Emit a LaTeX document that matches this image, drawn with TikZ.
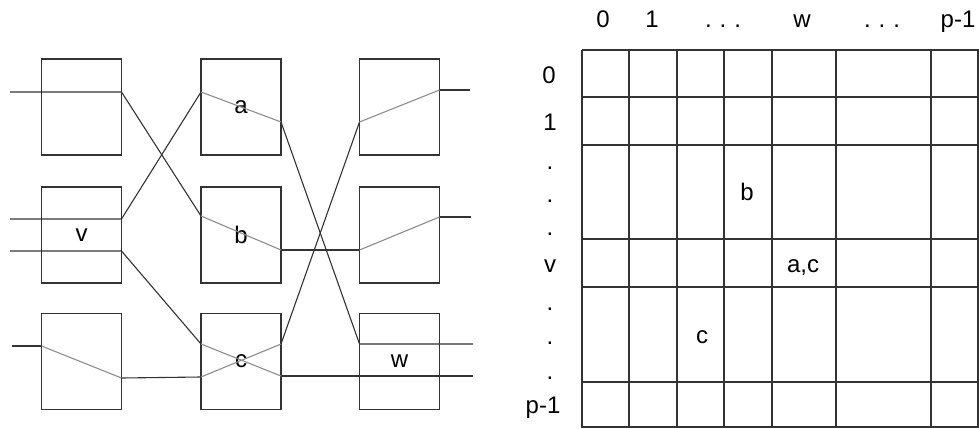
\documentclass[tikz,border=0pt]{standalone}
\usepackage{fontspec}
\setmainfont{Liberation Sans}
\begin{document}
\begin{tikzpicture}[x=1pt, y=-1pt,
		box/.style={draw=black!80, line width=1.3pt, minimum width=80pt, minimum height=96pt, inner sep=0pt},
		wire/.style={black!80, line width=1.1pt},
		inwire/.style={black!45, line width=1.1pt},
		lbl/.style={anchor=base, inner sep=0pt},
		font=\fontsize{24}{28}\selectfont]
	\useasboundingbox (0,0) rectangle (979,428);
	% switch boxes
	\node[box] (s11) at (81.5,107) {};
	\node[box] (s21) at (81.5,235) {v};
	\node[box] (s31) at (81.5,361.5) {};
	\node[box] (s12) at (241,107) {a};
	\node[box] (s22) at (241,235) {b};
	\node[box] (s32) at (241,361.5) {c};
	\node[box] (s13) at (399.5,107) {};
	\node[box] (s23) at (399.5,235) {};
	\node[box] (s33) at (399.5,361.5) {w};
	% wire ends
	\coordinate (in1) at (10,92);   \coordinate (o11) at (121.5,92);
	\coordinate (in2) at (10,219);  \coordinate (o21) at (121.5,219);
	\coordinate (in3) at (10,251);  \coordinate (o22) at (121.5,251);
	\coordinate (in4) at (12,346);  \coordinate (i31) at (41.5,346);
	\coordinate (o31) at (121.5,378);
	\coordinate (i12) at (201,92);  \coordinate (o12) at (281,122);
	\coordinate (i22) at (201,216); \coordinate (o22b) at (281,250);
	\coordinate (i32a) at (201,344); \coordinate (i32b) at (201,377);
	\coordinate (o32a) at (281,344); \coordinate (o32b) at (281,376);
	\coordinate (i13) at (359.5,122); \coordinate (o13) at (439.5,90);
	\coordinate (i23) at (359.5,250); \coordinate (o23) at (439.5,217);
	\coordinate (i33a) at (359.5,344);
	\coordinate (out1) at (470,90);  \coordinate (out2) at (471,217);
	\coordinate (out3) at (473,344); \coordinate (out4) at (473,376);
	% wires
	\draw[wire] (in1) -- (o11) -- (i22);
	\draw[inwire] (i22) -- (o22b);
	\draw[wire] (o22b) -- (i23);
	\draw[inwire] (i23) -- (o23);
	\draw[wire] (o23) -- (out2);
	\draw[wire] (in2) -- (o21) -- (i12);
	\draw[inwire] (i12) -- (o12);
	\draw[wire] (o12) -- (i33a) -- (out3);
	\draw[wire] (in3) -- (o22) -- (i32a);
	\draw[inwire] (i32a) -- (o32b);
	\draw[wire] (o32b) -- (out4);
	\draw[wire] (in4) -- (i31);
	\draw[inwire] (i31) -- (o31);
	\draw[wire] (o31) -- (i32b);
	\draw[inwire] (i32b) -- (o32a);
	\draw[wire] (o32a) -- (i13);
	\draw[inwire] (i13) -- (o13);
	\draw[wire] (o13) -- (out1);
	% table
	\foreach \x in {582,629,677,724,772,836,931,978}
		\draw[wire] (\x,50) -- (\x,428);
	\foreach \y in {50,97,145,239,287,382,427}
		\draw[wire] (582,\y) -- (979,\y);
	\node[lbl] (c0) at (603,28) {0};
	\node[lbl] (c1) at (652,28) {1};
	\node[lbl] (cd1) at (723,28) {.\,\,.\,\,.};
	\node[lbl] (cw) at (802,28) {w};
	\node[lbl] (cd2) at (882,28) {.\,\,.\,\,.};
	\node[lbl] (cp) at (958,28) {p-1};
	\node[lbl] (r0) at (549,83) {0};
	\node[lbl] (r1) at (550,130) {1};
	\node[lbl] (rd1) at (550,169) {.};
	\node[lbl] (rd2) at (550,202) {.};
	\node[lbl] (rd3) at (550,235) {.};
	\node[lbl] (rv) at (550,272) {v};
	\node[lbl] (rd4) at (550,310) {.};
	\node[lbl] (rd5) at (550,344) {.};
	\node[lbl] (rd6) at (550,379) {.};
	\node[lbl] (rp) at (543,413) {p-1};
	\node[lbl] (tb) at (747,200) {b};
	\node[lbl] (tac) at (803,272) {a,c};
	\node[lbl] (tc) at (702,343) {c};
\end{tikzpicture}
\end{document}
